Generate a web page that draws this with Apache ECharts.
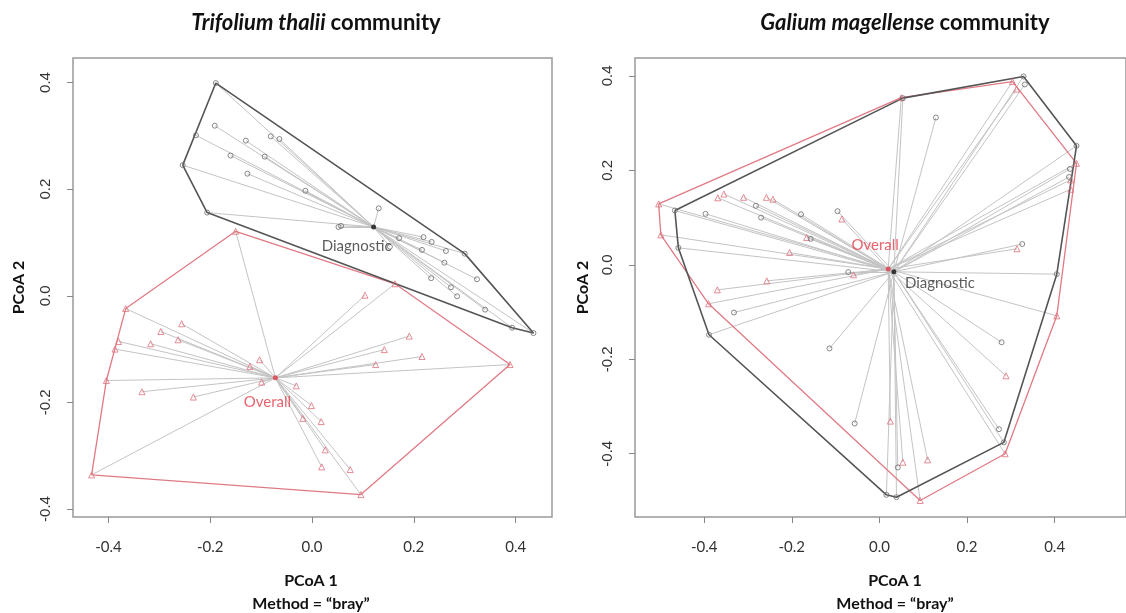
<!DOCTYPE html>
<html><head><meta charset="utf-8">
<script src="https://cdn.jsdelivr.net/npm/echarts@6/dist/echarts.min.js"></script>
<style>html,body{margin:0;padding:0;background:#fff}#c{width:1126px;height:613px}</style>
</head><body><div id="c"></div>
<script>
// ---------- DATA ----------
const tickValues = [-0.4, -0.2, 0, 0.2, 0.4];

const leftTitleItalic = 'Trifolium thalii';
const rightTitleItalic = 'Galium magellense';
const titleSuffix = 'community';
const xAxisTitle = 'PCoA 1';
const methodText = 'Method = \u201Cbray\u201D';
const yAxisTitle = 'PCoA 2';
const groupNames = ['Diagnostic', 'Overall'];

// Trifolium thalii community
const leftDiagnostic = [
  [-0.189, 0.399], [-0.191, 0.319], [-0.228, 0.301], [-0.254, 0.245], [-0.130, 0.291],
  [-0.081, 0.299], [-0.064, 0.294], [-0.160, 0.263], [-0.093, 0.261], [-0.127, 0.229],
  [-0.013, 0.197], [-0.206, 0.156], [0.131, 0.164], [0.052, 0.129], [0.057, 0.131],
  [0.171, 0.108], [0.219, 0.110], [0.235, 0.101], [0.216, 0.086], [0.263, 0.084],
  [0.153, 0.092], [0.300, 0.079], [0.260, 0.062], [0.324, 0.031], [0.234, 0.033],
  [0.273, 0.016], [0.285, -0.001], [0.340, -0.026], [0.393, -0.060], [0.435, -0.070]
];
const leftDiagnosticCentroid = [0.121, 0.129];
const leftOverall = [
  [-0.150, 0.121], [0.163, 0.0225], [0.104, 0.001], [-0.366, -0.024], [-0.256, -0.0525],
  [-0.297, -0.067], [-0.263, -0.0825], [-0.317, -0.090], [-0.380, -0.0857], [-0.387, -0.100],
  [-0.404, -0.159], [-0.334, -0.180], [-0.233, -0.190], [-0.122, -0.1325], [-0.103, -0.120],
  [-0.099, -0.162], [-0.031, -0.169], [-0.001, -0.206], [-0.018, -0.230], [0.018, -0.236],
  [0.026, -0.289], [0.019, -0.321], [0.075, -0.326], [0.096, -0.373], [-0.433, -0.336],
  [0.389, -0.129], [0.191, -0.0757], [0.142, -0.101], [0.216, -0.114], [0.125, -0.129]
];
const leftOverallCentroid = [-0.072, -0.154];

// Galium magellense community
const rightDiagnostic = [
  [0.329, 0.399], [0.332, 0.382], [0.0535, 0.353], [0.129, 0.312], [0.450, 0.252],
  [0.435, 0.203], [0.433, 0.186], [-0.467, 0.115], [-0.397, 0.108], [-0.282, 0.125],
  [-0.270, 0.100], [-0.179, 0.107], [-0.0956, 0.1136], [-0.157, 0.055], [-0.459, 0.036],
  [0.326, 0.044], [-0.071, -0.0155], [0.405, -0.0197], [-0.332, -0.101], [-0.389, -0.148],
  [-0.114, -0.177], [0.279, -0.164], [-0.0565, -0.336], [0.273, -0.348], [0.284, -0.376],
  [0.042, -0.429], [0.016, -0.487], [0.039, -0.492]
];
const rightDiagnosticCentroid = [0.033, -0.0148];
const rightOverall = [
  [0.304, 0.388], [0.313, 0.372], [0.050, 0.354], [0.450, 0.215], [0.437, 0.180],
  [0.437, 0.160], [-0.504, 0.129], [-0.499, 0.0635], [-0.369, 0.142], [-0.355, 0.150],
  [-0.310, 0.143], [-0.258, 0.143], [-0.243, 0.139], [-0.0856, 0.097], [-0.166, 0.058],
  [-0.205, 0.026], [0.314, 0.034], [-0.059, -0.021], [-0.257, -0.034], [-0.370, -0.053],
  [-0.390, -0.0825], [0.405, -0.108], [0.289, -0.235], [0.287, -0.400], [0.025, -0.331],
  [0.0535, -0.418], [0.110, -0.413], [0.093, -0.499]
];
const rightOverallCentroid = [0.020, -0.009];

// ---------- HELPERS ----------
function convexHull(points) {
  const p = points.slice().sort((a, b) => a[0] - b[0] || a[1] - b[1]);
  const cross = (o, a, b) => (a[0] - o[0]) * (b[1] - o[1]) - (a[1] - o[1]) * (b[0] - o[0]);
  const lower = [], upper = [];
  for (const q of p) { while (lower.length >= 2 && cross(lower[lower.length - 2], lower[lower.length - 1], q) <= 0) lower.pop(); lower.push(q); }
  for (let i = p.length - 1; i >= 0; i--) { const q = p[i]; while (upper.length >= 2 && cross(upper[upper.length - 2], upper[upper.length - 1], q) <= 0) upper.pop(); upper.push(q); }
  const h = lower.slice(0, -1).concat(upper.slice(0, -1));
  h.push(h[0]);
  return h;
}
function spokes(points, c) { return points.map(p => ({ coords: [p, c] })); }

const BLACK = '#555555', RED = '#e07a84', SPOKE = '#c4c4c4';
const FONT = 'Lato, "Open Sans", sans-serif';

function panel(i, diag, diagC, over, overC, diagOffset, overOffset) {
  const ax = { xAxisIndex: i, yAxisIndex: i };
  return [
    Object.assign({ type: 'lines', coordinateSystem: 'cartesian2d', silent: true, data: spokes(over, overC),
      lineStyle: { color: SPOKE, width: 1, opacity: 1 }, z: 1 }, ax),
    Object.assign({ type: 'lines', coordinateSystem: 'cartesian2d', silent: true, data: spokes(diag, diagC),
      lineStyle: { color: SPOKE, width: 1, opacity: 1 }, z: 1 }, ax),
    Object.assign({ type: 'line', data: convexHull(over), symbol: 'none', lineStyle: { color: RED, width: 1.3 }, z: 2 }, ax),
    Object.assign({ type: 'line', data: convexHull(diag), symbol: 'none', lineStyle: { color: BLACK, width: 1.6 }, z: 2 }, ax),
    Object.assign({ type: 'scatter', data: over, symbol: 'triangle', symbolSize: 6,
      itemStyle: { color: 'rgba(255,255,255,0)', borderColor: '#e0707c', borderWidth: 1 }, z: 3 }, ax),
    Object.assign({ type: 'scatter', data: diag, symbol: 'circle', symbolSize: 5,
      itemStyle: { color: 'rgba(255,255,255,0)', borderColor: '#6a6a6a', borderWidth: 1 }, z: 3 }, ax),
    Object.assign({ type: 'scatter', data: [overC], symbol: 'circle', symbolSize: 5,
      itemStyle: { color: '#e03a48' }, z: 4,
      label: { show: true, position: 'inside', offset: overOffset, formatter: groupNames[1],
        color: '#e33b47', fontSize: 15, fontFamily: FONT } }, ax),
    Object.assign({ type: 'scatter', data: [diagC], symbol: 'circle', symbolSize: 5,
      itemStyle: { color: '#111' }, z: 4,
      label: { show: true, position: 'inside', offset: diagOffset, formatter: groupNames[0],
        color: '#333', fontSize: 15, fontFamily: FONT } }, ax)
  ];
}

function xAx(i, min, max) {
  return { type: 'value', gridIndex: i, min, max, splitLine: { show: false },
    axisLine: { show: false, onZero: false },
    axisTick: { show: true, customValues: tickValues, length: 6, lineStyle: { color: '#888' } },
    axisLabel: { customValues: tickValues, formatter: v => v.toFixed(1), color: '#333',
      fontSize: 15, fontFamily: FONT, margin: 23 } };
}
function yAx(i, min, max, gap) {
  return { type: 'value', gridIndex: i, min, max, splitLine: { show: false },
    axisLine: { show: false, onZero: false },
    axisTick: { show: true, customValues: tickValues, length: 6, lineStyle: { color: '#888' } },
    axisLabel: { customValues: tickValues, formatter: v => v.toFixed(1), rotate: 90, color: '#333',
      fontSize: 15, fontFamily: '"Liberation Sans", Arial, sans-serif', margin: 20 },
    name: yAxisTitle, nameLocation: 'middle', nameRotate: 90, nameGap: gap,
    nameTextStyle: { fontSize: 16, fontWeight: 'bold', color: '#111', fontFamily: FONT } };
}

const titleRich = {
  i: { fontStyle: 'italic', fontWeight: 'bold', fontSize: 22, fontFamily: FONT, color: '#111' },
  b: { fontWeight: 'bold', fontSize: 22, fontFamily: FONT, color: '#111' }
};
function mainTitle(text, x) {
  return { text: '{i|' + text + '} {b|' + titleSuffix + '}', left: x, top: 7, textAlign: 'center',
    textStyle: { rich: titleRich } };
}
function xTitle(x) {
  return { text: xAxisTitle + '\n' + methodText, left: x, top: 564, textAlign: 'center',
    textStyle: { fontSize: 16, fontWeight: 'bold', color: '#111', fontFamily: FONT, lineHeight: 23 } };
}

const chart = echarts.init(document.getElementById('c'), null, { renderer: 'canvas' });
chart.setOption({
  animation: false,
  backgroundColor: '#fff',
  title: [mainTitle(leftTitleItalic, 311), mainTitle(rightTitleItalic, 900), xTitle(306), xTitle(890)],
  grid: [
    { left: 73, top: 58, width: 479, height: 459, show: true, borderColor: '#999', borderWidth: 1.5, backgroundColor: 'rgba(0,0,0,0)' },
    { left: 635, top: 58, width: 524, height: 459, show: true, borderColor: '#999', borderWidth: 1.5, backgroundColor: 'rgba(0,0,0,0)' }
  ],
  xAxis: [xAx(0, -0.4695, 0.4714), xAx(1, -0.558, 0.563)],
  yAxis: [yAx(0, -0.415, 0.446, 46), yAx(1, -0.534, 0.438, 44)],
  series: [].concat(
    panel(0, leftDiagnostic, leftDiagnosticCentroid, leftOverall, leftOverallCentroid, [-17, 19], [-8, 24]),
    panel(1, rightDiagnostic, rightDiagnosticCentroid, rightOverall, rightOverallCentroid, [46, 11], [-13, -24])
  )
});
</script></body></html>
